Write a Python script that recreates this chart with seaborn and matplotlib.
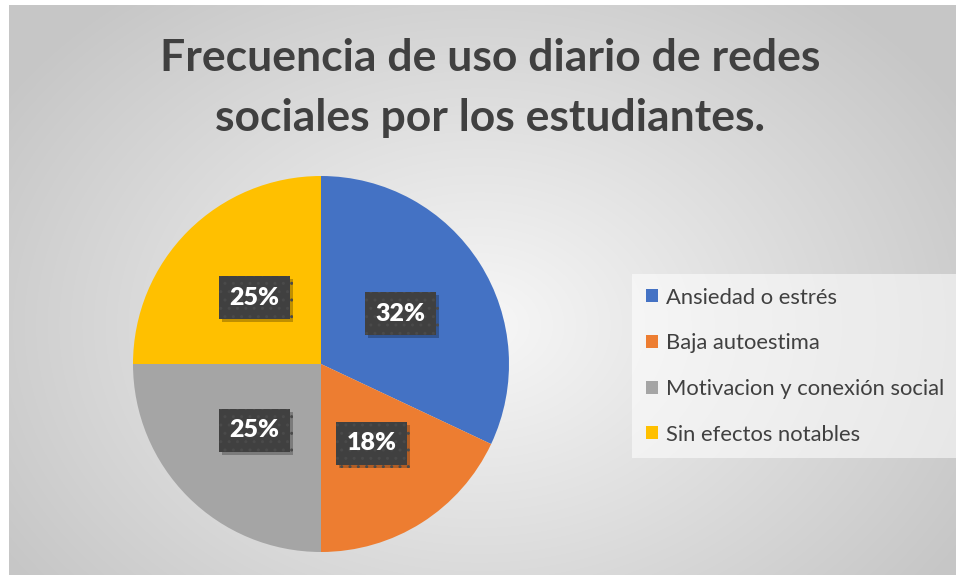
import matplotlib
matplotlib.use("Agg")
import matplotlib.pyplot as plt
import matplotlib.patheffects as pe
import numpy as np
import seaborn as sns

# data
categories = ["Ansiedad o estrés", "Baja autoestima",
              "Motivacion y conexión social", "Sin efectos notables"]
percentages = [32, 18, 25, 25]
colors = ["#4472C4", "#ED7D31", "#A5A5A5", "#FFC000"]
title = "Frecuencia de uso diario de redes\nsociales por los estudiantes."

sns.set_theme(style="white")
plt.rcParams["font.family"] = ["Lato", "DejaVu Sans"]

W, H = 956, 575
fig = plt.figure(figsize=(W / 100, H / 100), dpi=100)
fig.patch.set_facecolor("white")

# radial gradient background of the chart area
bg = fig.add_axes([9 / W, 0, (W - 9) / W, (H - 5) / H], zorder=0)
yy, xx = np.mgrid[0:570, 0:947]
cx, cy = 470, 320
d = np.sqrt(((xx - cx) / 560.0) ** 2 + ((yy - cy) / 420.0) ** 2)
d = np.clip(d, 0, 1)
shade = 0.97 - 0.19 * d
bg.imshow(np.dstack([shade, shade, shade]), aspect="auto", interpolation="bilinear")
bg.set_axis_off()

# pie
r = 188
pcx, pcy = 321, 364
ax = fig.add_axes([(pcx - r) / W, (H - pcy - r) / H, 2 * r / W, 2 * r / H], zorder=1)
ax.patch.set_alpha(0)
wedges, texts, autotexts = ax.pie(
    percentages, colors=colors, startangle=90, counterclock=False,
    autopct=lambda p: f"{p:.0f}%", pctdistance=0.5,
    wedgeprops=dict(linewidth=0),
    textprops=dict(color="white", fontsize=18, fontweight="heavy"))
ax.set_xlim(-1, 1)
ax.set_ylim(-1, 1)
for t in autotexts:
    t.set_bbox(dict(boxstyle="square,pad=0.42", facecolor="#404040",
                    edgecolor="#4a4a4a", hatch="..", linewidth=0))
    t.get_bbox_patch().set_path_effects(
        [pe.withSimplePatchShadow(offset=(2, -2), shadow_rgbFace="black", alpha=0.25)])

fig.text(490 / W, 1 - 88 / H, title, ha="center", va="center",
         fontsize=32, fontweight="bold", color="#404040", linespacing=1.62)

leg = fig.legend(wedges, categories, loc="upper left",
                 bbox_to_anchor=(632 / W, 1 - 274 / H), fontsize=15.8,
                 frameon=True, fancybox=False, framealpha=0.55,
                 facecolor="white", edgecolor="none",
                 handlelength=0.55, handleheight=0.55, handletextpad=0.4,
                 labelspacing=1.17, borderpad=0.62, borderaxespad=0)
for t in leg.get_texts():
    t.set_color("#404040")

fig.savefig("out.png", dpi=100)
